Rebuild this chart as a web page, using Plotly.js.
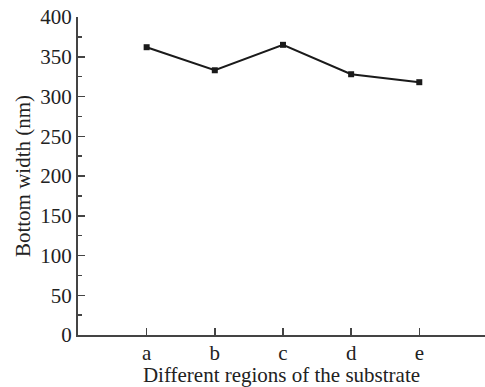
<!DOCTYPE html>
<html>
<head>
<meta charset="utf-8">
<script src="https://cdn.plot.ly/plotly-3.0.1.min.js"></script>
<style>html,body{margin:0;padding:0;background:#fff}#chart{width:485px;height:387px}</style>
</head>
<body>
<div id="chart"></div>
<script>
const regions = ['a', 'b', 'c', 'd', 'e'];
const bottomWidth = [362, 333, 365, 328, 318];
const yTickVals = [0, 50, 100, 150, 200, 250, 300, 350, 400];

const font = {family: 'Liberation Serif, Times New Roman, serif', size: 21, color: '#222'};

const trace = {
  x: regions.map((r, i) => i),
  y: bottomWidth,
  type: 'scatter',
  mode: 'lines+markers',
  line: {color: '#1a1a1a', width: 2},
  marker: {symbol: 'square', size: 6, color: '#1a1a1a'},
  showlegend: false,
  hoverinfo: 'skip'
};

const layout = {
  width: 485, height: 387,
  margin: {l: 78, r: 0, t: 17, b: 52},
  paper_bgcolor: '#fff', plot_bgcolor: '#fff',
  font: font,
  showlegend: false,
  xaxis: {
    range: [-1.007, 4.964],
    tickmode: 'array',
    tickvals: regions.map((r, i) => i),
    ticktext: regions,
    ticks: 'inside', ticklen: 7, tickwidth: 1.5, tickcolor: '#444',
    ticklabelstandoff: -2,
    showline: true, linecolor: '#444', linewidth: 2,
    showgrid: false, zeroline: false,
    tickfont: font,
    title: {text: 'Different regions of the substrate', font: font, standoff: 2}
  },
  yaxis: {
    range: [0, 400],
    tickmode: 'array',
    tickvals: yTickVals,
    ticks: 'inside', ticklen: 7, tickwidth: 1.5, tickcolor: '#444',
    minor: {dtick: 25, ticks: 'inside', ticklen: 4, tickwidth: 1.5, tickcolor: '#444', showgrid: false},
    showline: true, linecolor: '#444', linewidth: 2,
    showgrid: false, zeroline: false,
    tickfont: font,
    title: {text: 'Bottom width (nm)', font: font, standoff: 4}
  }
};

Plotly.newPlot('chart', [trace], layout, {displayModeBar: false, staticPlot: true});
</script>
</body>
</html>
